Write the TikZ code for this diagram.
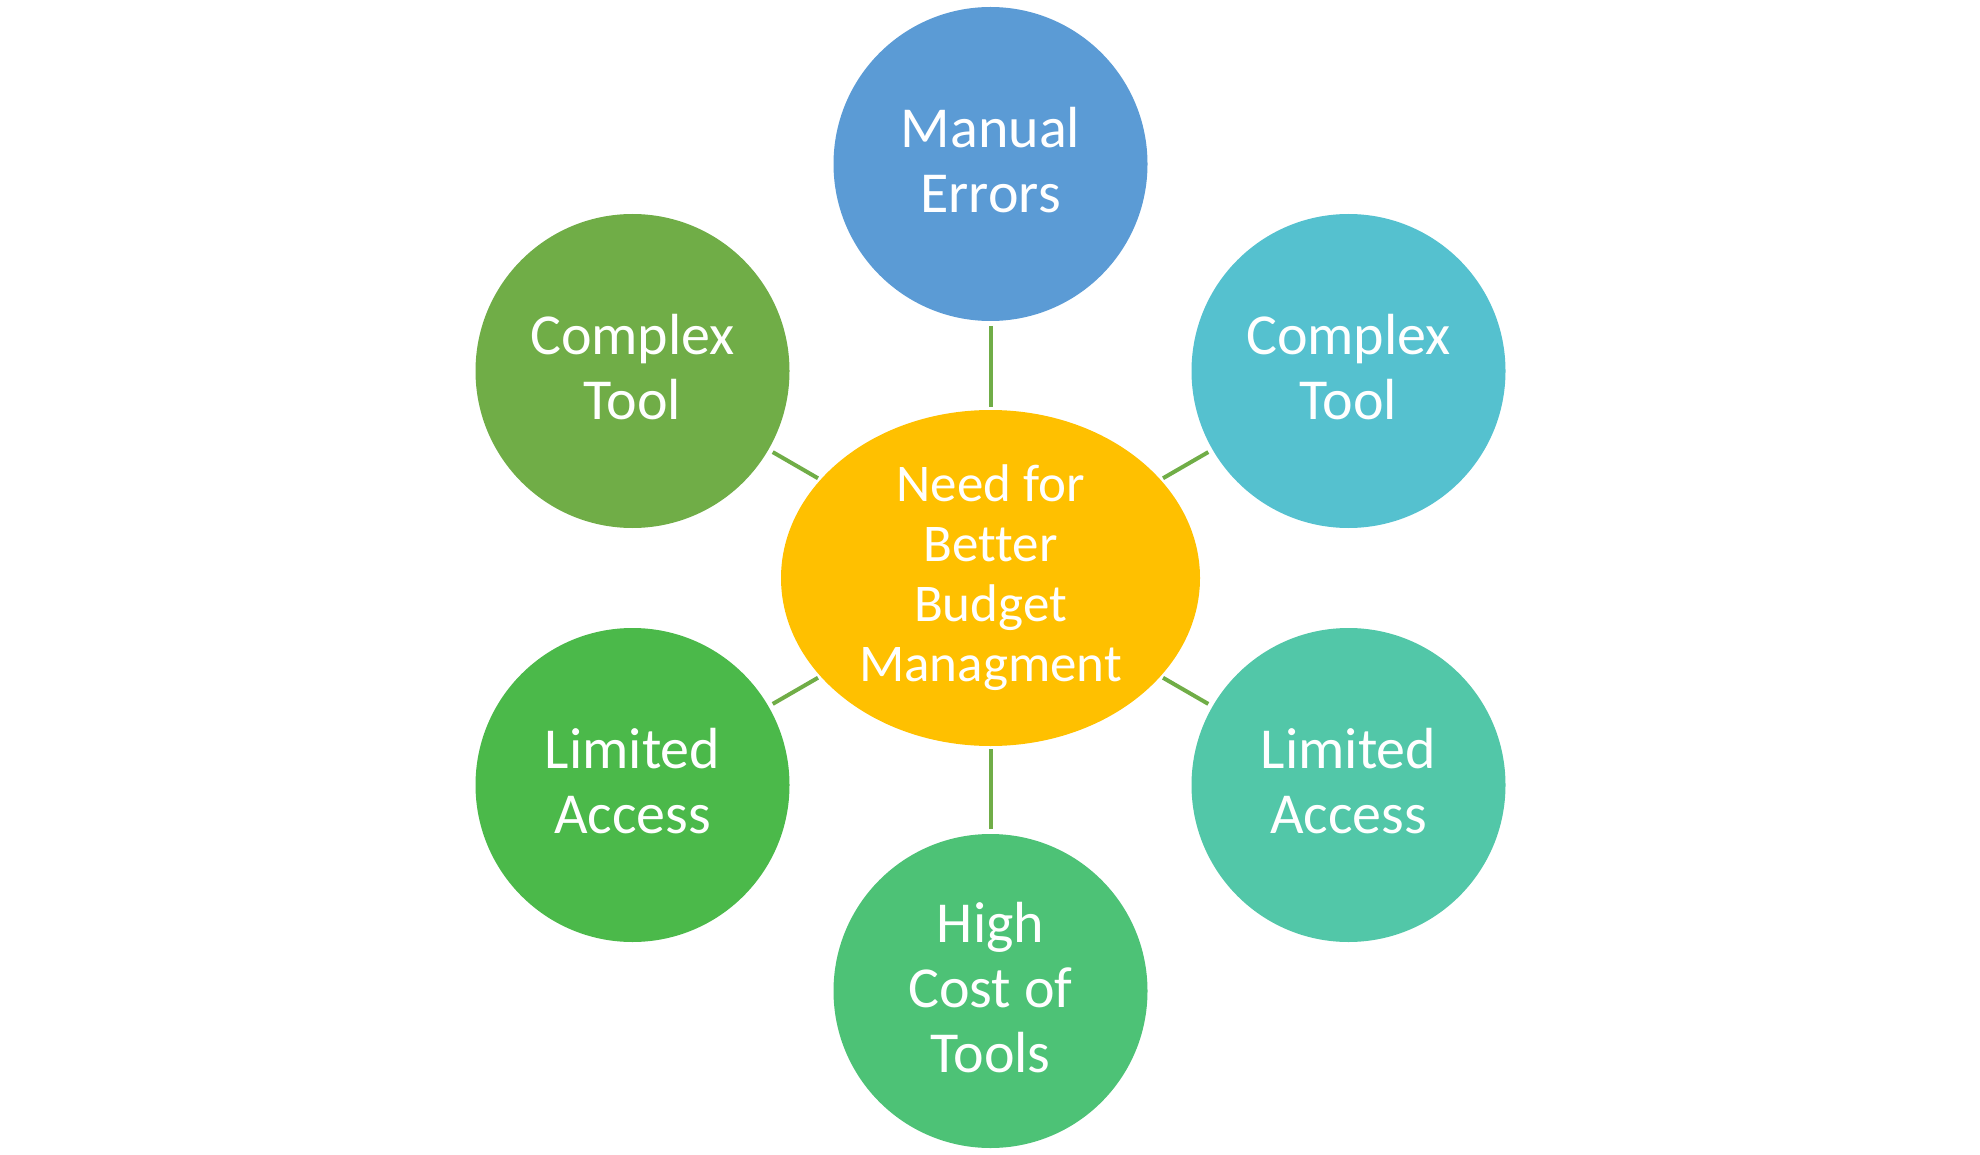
\documentclass[tikz,border=0pt]{standalone}
\usepackage{fontspec}
\setmainfont[Ligatures=NoCommon]{Carlito}
\usetikzlibrary{shapes.geometric}

\definecolor{cBlue}{HTML}{5B9BD5}
\definecolor{cOlive}{HTML}{70AD47}
\definecolor{cTeal}{HTML}{55C1CF}
\definecolor{cGreen}{HTML}{4BB94A}
\definecolor{cMint}{HTML}{52C7A8}
\definecolor{cEmerald}{HTML}{4DC276}
\definecolor{cHub}{HTML}{FFC000}
\definecolor{cLink}{HTML}{70AD47}

\tikzset{
  bubble/.style={circle, minimum size=314pt, inner sep=0pt, outer sep=0pt,
    text=white, align=center, text depth=8pt, font=\fontsize{58}{65}\selectfont},
  hub/.style={ellipse, minimum width=419pt, minimum height=336pt, inner sep=0pt,
    outer sep=0pt, fill=cHub, text=white, align=center,
    font=\fontsize{53}{60}\selectfont},
  link/.style={draw=cLink, line width=4pt, shorten <=5pt, shorten >=3pt}
}

\begin{document}
\begin{tikzpicture}[x=1pt, y=-1pt]
  \useasboundingbox (0,0) rectangle (1980,1155);

  % central topic
  \node[hub] (hub) at (990.5,578) {Need for\\Better\\Budget\\Managment};

  % surrounding causes
  \node[bubble, fill=cBlue]    (top) at (990.5,164)  {Manual\\Errors};
  \node[bubble, fill=cOlive]   (ul)  at (632.5,371)  {Complex\\Tool};
  \node[bubble, fill=cTeal]    (ur)  at (1348.5,371) {Complex\\Tool};
  \node[bubble, fill=cGreen]   (ll)  at (632.5,785)  {Limited\\Access};
  \node[bubble, fill=cMint]    (lr)  at (1348.5,785) {Limited\\Access};
  \node[bubble, fill=cEmerald] (bot) at (990.5,991)  {High\\Cost of\\Tools};

  % spokes
  \foreach \n in {top,ul,ur,ll,lr,bot}
    \draw[link] (\n) -- (hub);
\end{tikzpicture}
\end{document}
